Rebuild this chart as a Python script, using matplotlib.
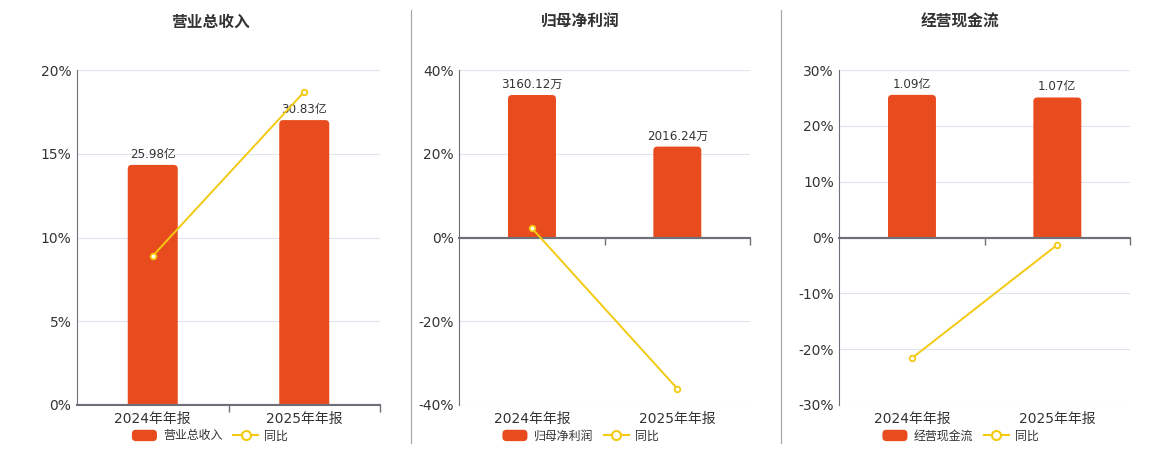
import matplotlib
matplotlib.use('Agg')
import matplotlib.pyplot as plt
from matplotlib.patches import FancyBboxPatch, Rectangle, Patch
from matplotlib.lines import Line2D
from matplotlib.legend_handler import HandlerPatch
from matplotlib.ticker import FuncFormatter, MultipleLocator

plt.rcParams['font.family'] = ['DejaVu Sans', 'Noto Sans CJK SC']

# ---------------- data ----------------
categories = ['2024年年报', '2025年年报']
titles = ['营业总收入', '归母净利润', '经营现金流']

revenue = [25.98, 30.83]            # 亿
revenue_labels = ['25.98亿', '30.83亿']
revenue_yoy = [8.9, 18.7]           # %

profit = [3160.12, 2016.24]         # 万
profit_labels = ['3160.12万', '2016.24万']
profit_yoy = [2.2, -36.1]           # %

cash = [1.09, 1.07]                 # 亿
cash_labels = ['1.09亿', '1.07亿']
cash_yoy = [-21.6, -1.3]            # %

pct_axes = [(0, 20, 5), (-40, 40, 20), (-30, 30, 10)]
bar_axes = [(0, 36.25), (-3715, 3715), (-1.28, 1.28)]

# ---------------- style ----------------
W, H = 1160, 450
BAR_C = '#E84C1E'
LINE_C = '#F3C911'
AXIS_C = '#6E7079'
GRID_C = '#E0E6F1'
TXT_C = '#333333'

panels = [
    (revenue, revenue_labels, revenue_yoy),
    (profit, profit_labels, profit_yoy),
    (cash, cash_labels, cash_yoy),
]
ax_px = [(77, 380), (459.3, 750), (839.3, 1130)]
centers = [210, 580.5, 960.5]
top_px, bot_px = 70, 405

fig = plt.figure(figsize=(W / 100, H / 100), dpi=100)
fig.patch.set_facecolor('white')


def rounded(legend, orig_handle, xdescent, ydescent, width, height, fontsize):
    return FancyBboxPatch((-xdescent, -ydescent), width, height,
                          boxstyle='round,pad=0,rounding_size=3')


for i, ((vals, lbls, yoy), (x0, x1)) in enumerate(zip(panels, ax_px)):
    lo, hi, step = pct_axes[i]
    blo, bhi = bar_axes[i]
    rect = [x0 / W, (H - bot_px) / H, (x1 - x0) / W, (bot_px - top_px) / H]
    ax = fig.add_axes(rect)
    axb = ax.twinx()
    axl = ax.twinx()

    xs = list(range(len(categories)))

    # percent axis
    ax.set_xlim(-0.5, len(categories) - 0.5)
    ax.set_ylim(lo, hi)
    ax.yaxis.set_major_locator(MultipleLocator(step))
    ax.yaxis.set_major_formatter(FuncFormatter(lambda v, p: f'{v:.0f}%'))
    ax.grid(axis='y', color=GRID_C, lw=0.8)
    ax.set_axisbelow(True)
    for s in ('top', 'right'):
        ax.spines[s].set_visible(False)
    ax.spines['left'].set_color(AXIS_C)
    ax.spines['left'].set_linewidth(0.8)
    ax.spines['bottom'].set_position(('data', 0))
    ax.spines['bottom'].set_color(AXIS_C)
    ax.spines['bottom'].set_linewidth(1.5)
    ax.set_xticks([x + 0.5 for x in xs])
    ax.set_xticklabels([])
    ax.tick_params(axis='x', length=5, width=1, color=AXIS_C, direction='out')
    ax.tick_params(axis='y', length=0, pad=4, labelsize=10, labelcolor=TXT_C)
    for x, c in zip(xs, categories):
        ax.text(x, -0.022, c, transform=ax.get_xaxis_transform(), ha='center',
                va='top', fontsize=10, color=TXT_C)

    # bars
    axb.set_ylim(blo, bhi)
    axb.axis('off')
    bars = axb.bar(xs, vals, width=0.33, color=BAR_C)
    pxx = (x1 - x0) / (len(categories))
    pxy = (bot_px - top_px) / (bhi - blo)
    r_px = 4
    rx = r_px / pxx
    ry = r_px / pxy
    for b in bars:
        b.set_visible(False)
        bx, by, bw, bh = b.get_x(), b.get_y(), b.get_width(), b.get_height()
        rp = FancyBboxPatch((bx, by - ry), bw, bh + ry,
                            boxstyle=f'round,pad=0,rounding_size={rx}',
                            mutation_aspect=pxx / pxy,
                            facecolor=BAR_C, edgecolor='none')
        axb.add_patch(rp)
        clip = Rectangle((-0.5, 0), len(categories), bhi, transform=axb.transData)
        rp.set_clip_path(clip)
    axb.bar_label(bars, labels=lbls, padding=3, fontsize=8.6, color=TXT_C)

    # yoy line
    axl.set_ylim(lo, hi)
    axl.axis('off')
    axl.axhline(0, color=AXIS_C, lw=1.5, zorder=1)
    axl.plot(xs, yoy, color=LINE_C, lw=1.4, marker='o', ms=4, mfc='white',
             mec=LINE_C, mew=1.3, zorder=5)

    # title
    fig.text(centers[i] / W, 1 - 22 / H, titles[i], ha='center', va='center',
             fontsize=11.3, fontweight='bold', color=TXT_C)

    # legend
    ph = Patch(facecolor=BAR_C, edgecolor='none', label=titles[i])
    lh = Line2D([], [], color=LINE_C, lw=1.5, marker='o', ms=6.5, mfc='white',
                mec=LINE_C, mew=1.5, label='同比')
    leg = fig.legend(handles=[ph, lh], loc='center',
                     bbox_to_anchor=(centers[i] / W, 1 - 436 / H),
                     ncol=2, frameon=False, fontsize=8.6,
                     handlelength=2.1, handleheight=1.09, handletextpad=0.5,
                     columnspacing=0.92, borderpad=0, borderaxespad=0,
                     handler_map={ph: HandlerPatch(patch_func=rounded)})
    for t in leg.get_texts():
        t.set_color(TXT_C)

# separators
for sx in (410.7, 780.7):
    fig.add_artist(Line2D([sx / W, sx / W], [1 - 10 / H, 1 - 443 / H],
                          transform=fig.transFigure, color='#A8A8A4', lw=0.9))

fig.savefig('out.png', dpi=100, facecolor='white')
